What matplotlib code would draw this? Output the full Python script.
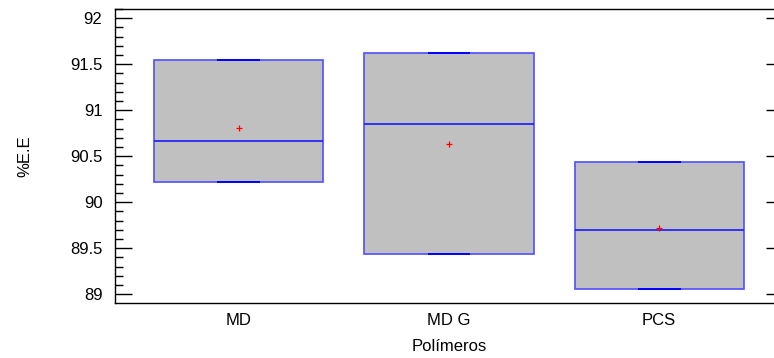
import matplotlib
matplotlib.use("Agg")
import matplotlib.pyplot as plt
from matplotlib.ticker import MultipleLocator

plt.rcParams["font.family"] = ["Liberation Sans", "DejaVu Sans"]

# box summaries per polymer (min = Q1 and max = Q3 here)
categories = ["MD", "MD G", "PCS"]
q1 = [90.224, 89.441, 89.054]
q3 = [91.550, 91.626, 90.441]
medians = [90.666, 90.854, 89.696]
means = [90.81, 90.63, 89.724]

positions = [1, 2, 3]

fig = plt.figure(figsize=(7.74, 3.58), dpi=100)
# right spine sits just past the image edge, so only the tick stubs show
ax = fig.add_axes([115 / 774, 55 / 358, 668 / 774, 294 / 358])

stats = [
    {"label": c, "q1": a, "q3": b, "med": m, "mean": mu, "whislo": a, "whishi": b, "fliers": []}
    for c, a, b, m, mu in zip(categories, q1, q3, medians, means)
]

ax.bxp(
    stats,
    positions=positions,
    widths=0.805,
    patch_artist=True,
    showmeans=True,
    capwidths=0.195,
    boxprops=dict(facecolor="#c0c0c0", edgecolor="#4f4fff", linewidth=1.2),
    medianprops=dict(color="#1a1aff", linewidth=1.2),
    whiskerprops=dict(color="#1a1aff", linewidth=1.0),
    capprops=dict(color="#0000ff", linewidth=1.4),
    meanprops=dict(marker="+", markeredgecolor="#ff0000", markersize=5, markeredgewidth=0.9),
)

ax.set_xlim(0.41, 3.59)
ax.set_ylim(88.905, 92.1)
ax.yaxis.set_major_locator(MultipleLocator(0.5))
ax.yaxis.set_minor_locator(MultipleLocator(0.1))
ax.set_yticklabels([f"{v:g}" for v in ax.get_yticks()])

ax.tick_params(axis="y", which="major", direction="in", length=12, width=1,
               labelsize=12, right=True, pad=9)
ax.tick_params(axis="y", which="minor", direction="in", length=6, width=1, right=False)
ax.tick_params(axis="x", length=0, labelsize=12, pad=7)
ax.set_xticks(positions)
ax.set_xticklabels(categories)

for side in ["left", "top", "bottom", "right"]:
    ax.spines[side].set_linewidth(1.0)

ax.set_ylabel("%E.E", fontsize=12, labelpad=27)
ax.set_xlabel("Polímeros", fontsize=12, labelpad=8)

fig.savefig("out.png", dpi=100)
